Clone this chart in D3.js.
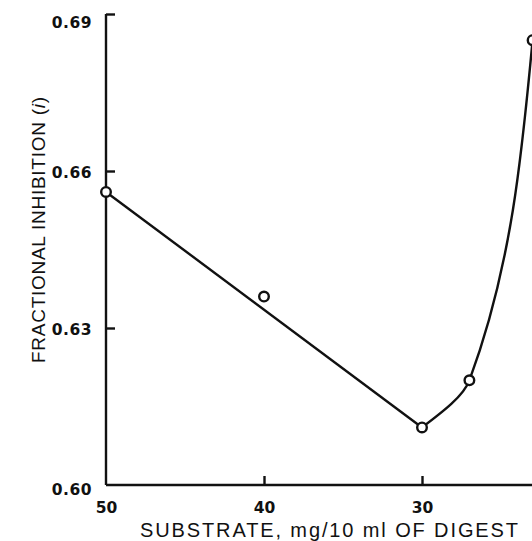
<!DOCTYPE html>
<html>
<head>
<meta charset="utf-8">
<script src="https://cdn.jsdelivr.net/npm/d3@7/dist/d3.min.js"></script>
<style>
  html, body { margin: 0; padding: 0; background: #fff; }
  svg { display: block; }
</style>
</head>
<body>
<script>
// Substrate concentration (mg/10 ml of digest) and fractional inhibition
const substrate = [50, 40, 30, 27, 23];
const inhibition = [0.656, 0.636, 0.611, 0.620, 0.685];
const xTicks = [50, 40, 30];
const yTicks = [0.60, 0.63, 0.66, 0.69];
// straight fit runs between these two observations; the curve covers the rest
const fitEnds = [0, 2];
const curveFrom = 2;

const W = 532, H = 541;
const svg = d3.select("body").append("svg").attr("width", W).attr("height", H);

const x = d3.scaleLinear().domain([50, 23]).range([106, 532.6]);
const y = d3.scaleLinear().domain([0.60, 0.69]).range([485, 14]);

const ink = "#111";
const sans = "'Liberation Sans', Arial, Helvetica, sans-serif";
const pts = substrate.map((s, i) => ({ s, v: inhibition[i] }));

// axes
const xAxis = svg.append("g").attr("transform", `translate(0,${y(0.60)})`)
  .call(d3.axisBottom(x).tickValues(xTicks).tickSizeInner(-9).tickSizeOuter(0).tickPadding(17)
    .tickFormat(d3.format("d")));
const yAxis = svg.append("g").attr("transform", `translate(${x(50)},0)`)
  .call(d3.axisLeft(y).tickValues(yTicks).tickSizeInner(-9).tickSizeOuter(0).tickPadding(14)
    .tickFormat(d3.format(".2f")));

[xAxis, yAxis].forEach(g => {
  g.select(".domain").attr("stroke", ink).attr("stroke-width", 2.4);
  g.selectAll(".tick line").attr("stroke", ink).attr("stroke-width", 2.4);
  g.selectAll(".tick text").attr("fill", ink)
    .style("font-family", "'DejaVu Sans', sans-serif")
    .style("font-size", "15.5px").style("font-weight", "bold");
});
yAxis.selectAll(".tick text").style("letter-spacing", "0.5px");
xAxis.select(".domain").attr("d", `M${x(50)},0H${W}`);
yAxis.select(".domain").attr("d", `M0,${y(0.60)}V${y(0.69)}`);
xAxis.selectAll(".tick").filter(d => d === 50).select("line").remove();
yAxis.selectAll(".tick").filter(d => d === 0.60).select("line").remove();
xAxis.selectAll(".tick text").attr("dy", "0.71em");
yAxis.selectAll(".tick text").attr("dy", d => d === 0.69 ? "0.85em" : (d === 0.60 ? "0.6em" : "0.4em"));

// axis titles
svg.append("text")
  .attr("x", 140).attr("y", 537)
  .attr("textLength", 378).attr("lengthAdjust", "spacing")
  .attr("fill", ink)
  .style("font-family", sans)
  .style("font-size", "20px")
  .text("SUBSTRATE, mg/10 ml OF DIGEST");

const yt = svg.append("text")
  .attr("transform", "translate(45,363) rotate(-90)")
  .attr("textLength", 266).attr("lengthAdjust", "spacing")
  .attr("fill", ink)
  .style("font-family", sans)
  .style("font-size", "19px");
yt.append("tspan").text("FRACTIONAL INHIBITION (");
yt.append("tspan").style("font-style", "italic").text("i");
yt.append("tspan").text(")");

// straight fitted segment
svg.append("path")
  .datum(fitEnds.map(i => pts[i]))
  .attr("fill", "none").attr("stroke", ink).attr("stroke-width", 2.4)
  .attr("d", d3.line().x(d => x(d.s)).y(d => y(d.v)));

// smooth rise at low substrate
svg.append("path")
  .datum(pts.slice(curveFrom))
  .attr("fill", "none").attr("stroke", ink).attr("stroke-width", 2.4)
  .attr("d", d3.line().x(d => x(d.s)).y(d => y(d.v)).curve(d3.curveMonotoneY));

// observations
svg.append("g").selectAll("circle").data(pts).join("circle")
  .attr("cx", d => x(d.s)).attr("cy", d => y(d.v)).attr("r", 4.8)
  .attr("fill", "#fff").attr("stroke", ink).attr("stroke-width", 2.4);
</script>
</body>
</html>
